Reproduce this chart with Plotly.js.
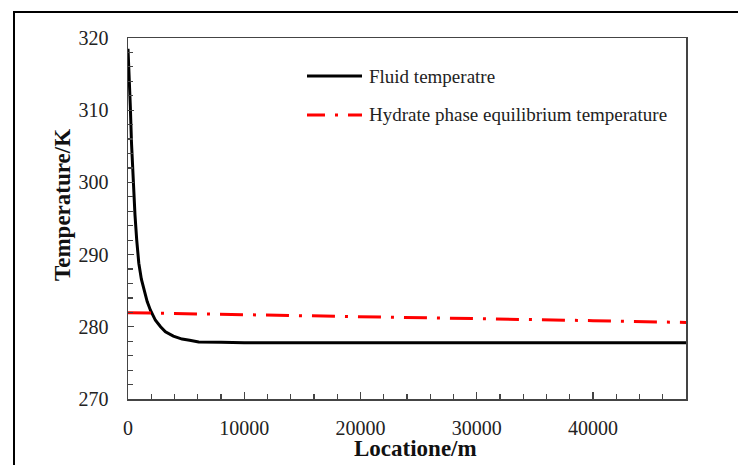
<!DOCTYPE html>
<html>
<head>
<meta charset="utf-8">
<script src="https://cdn.plot.ly/plotly-3.0.1.min.js"></script>
<style>html,body{margin:0;padding:0;background:#fff;}#chart{width:738px;height:465px;}</style>
</head>
<body>
<div id="chart"></div>
<script>
// ---- data ----
const fluidX = [0, 100, 200, 300, 450, 600, 750, 930, 1150, 1360, 1650, 1930, 2360, 2800, 3220, 3900, 4650, 5300, 6080, 8000, 10000, 15000, 20000, 30000, 40000, 48000];
const fluidT = [318.5, 315, 310.5, 305.5, 300, 295.5, 292, 288.8, 286.6, 285.1, 283.5, 282.3, 280.9, 280.0, 279.3, 278.7, 278.3, 278.15, 277.9, 277.85, 277.8, 277.8, 277.8, 277.8, 277.8, 277.8];
const hydX = [0, 10000, 20000, 30000, 40000, 48000];
const hydT = [281.95, 281.7, 281.35, 281.1, 280.85, 280.6];
const seriesNames = ["Fluid temperatre", "Hydrate phase equilibrium temperature"];
const xTitle = "Locatione/m";
const yTitle = "Temperature/K";

// ---- layout geometry ----
const W = 738, H = 465;
const M = {l: 128, r: 52, t: 38, b: 66};
const pw = W - M.l - M.r, ph = H - M.t - M.b;
const px = x => (x - M.l) / pw;
const py = y => (H - M.b - y) / ph;
const FONT = "Liberation Serif, Times New Roman, serif";
const RED_DASH = "23px,10px,3px,10px";

const traces = [
  {x: fluidX, y: fluidT, type: "scatter", mode: "lines", name: seriesNames[0],
   line: {color: "#000", width: 3}, showlegend: false},
  {x: hydX, y: hydT, type: "scatter", mode: "lines", name: seriesNames[1],
   line: {color: "#ff0000", width: 3, dash: RED_DASH}, showlegend: false}
];

const axisCommon = {
  showgrid: false, zeroline: false, showline: true, mirror: true,
  linecolor: "#444", linewidth: 1.5,
  ticks: "inside", tickcolor: "#444", tickwidth: 1.2,
  tickformat: "d", exponentformat: "none",
  tickfont: {family: FONT, size: 20, color: "#222"}
};

const layout = {
  width: W, height: H,
  margin: M,
  paper_bgcolor: "#fff", plot_bgcolor: "#fff",
  showlegend: false,
  xaxis: Object.assign({}, axisCommon, {
    range: [0, 48000], dtick: 10000, tick0: 0, ticklen: 7,
    ticklabelstandoff: 10,
    minor: {dtick: 2000, ticks: "inside", ticklen: 5, tickcolor: "#444", tickwidth: 1.2}
  }),
  yaxis: Object.assign({}, axisCommon, {
    range: [270, 320], dtick: 10, tick0: 270, ticklen: 6,
    ticklabelstandoff: 14,
    minor: {dtick: 2, ticks: "inside", ticklen: 5, tickcolor: "#444", tickwidth: 1.2}
  }),
  shapes: [
    {type: "rect", xref: "paper", yref: "paper", x0: px(14), x1: px(748), y0: py(12), y1: py(480),
     line: {color: "#000", width: 2}, fillcolor: "rgba(0,0,0,0)", layer: "below"},
    {type: "line", xref: "paper", yref: "paper", x0: px(307), x1: px(362), y0: py(76), y1: py(76),
     line: {color: "#000", width: 3}},
    {type: "line", xref: "paper", yref: "paper", x0: px(307), x1: px(362), y0: py(115), y1: py(115),
     line: {color: "#ff0000", width: 3, dash: "18px,10px,3px,10px"}}
  ],
  annotations: [
    {text: seriesNames[0], xref: "paper", yref: "paper", x: px(367), y: py(76), xanchor: "left", yanchor: "middle",
     showarrow: false, font: {family: FONT, size: 19, color: "#222"}},
    {text: seriesNames[1], xref: "paper", yref: "paper", x: px(367), y: py(115), xanchor: "left", yanchor: "middle",
     showarrow: false, font: {family: FONT, size: 19, color: "#222"}},
    {text: "<b>" + xTitle + "</b>", xref: "paper", yref: "paper", x: px(415), y: py(448), xanchor: "center", yanchor: "middle",
     showarrow: false, font: {family: FONT, size: 23, color: "#111"}},
    {text: "<b>" + yTitle + "</b>", xref: "paper", yref: "paper", x: px(62), y: py(205), xanchor: "center", yanchor: "middle",
     textangle: -90, showarrow: false, font: {family: FONT, size: 23, color: "#111"}}
  ]
};

Plotly.newPlot("chart", traces, layout, {staticPlot: true, displayModeBar: false});
</script>
</body>
</html>
